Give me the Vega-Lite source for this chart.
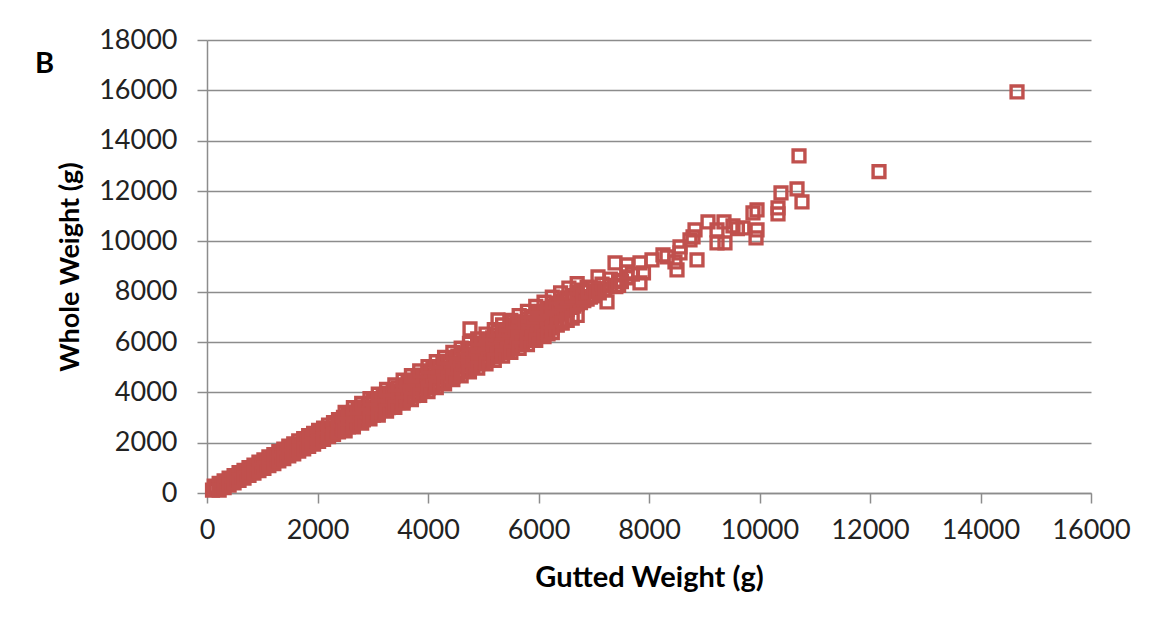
{
  "$schema": "https://vega.github.io/schema/vega-lite/v6.json",
  "width": 884,
  "height": 453,
  "autosize": "none",
  "padding": {"left": 207, "top": 40, "right": 67, "bottom": 130},
  "background": "white",
  "title": {
    "text": "B",
    "anchor": "start",
    "frame": "group",
    "baseline": "top",
    "offset": 0,
    "dx": -172,
    "dy": 53,
    "font": "Lato",
    "fontSize": 29,
    "fontWeight": "bold",
    "color": "#000000"
  },
  "data": {
    "format": {"type": "csv"},
    "values": "g,w\n100,115\n160,175\n220,250\n280,310\n340,388\n400,445\n460,520\n520,578\n580,655\n640,712\n700,790\n760,848\n820,925\n880,980\n940,1060\n1000,1115\n1060,1192\n1120,1250\n1180,1328\n1240,1384\n1300,1462\n1360,1518\n1420,1597\n1480,1652\n1540,1730\n1600,1788\n1660,1866\n1720,1920\n1780,2000\n1840,2055\n1900,2135\n1960,2190\n2020,2270\n2080,2322\n2140,2405\n2200,2458\n2260,2540\n2320,2592\n2380,2672\n2440,2725\n2500,2810\n2560,2860\n2620,2945\n2680,2995\n2740,3078\n2800,3130\n2860,3212\n2920,3262\n2980,3345\n3040,3398\n3100,3480\n3160,3532\n3220,3615\n3280,3665\n3340,3750\n3400,3800\n3460,3885\n3520,3935\n3580,4020\n3640,4070\n3700,4152\n3760,4205\n3820,4288\n3880,4338\n3940,4420\n4000,4472\n4060,4556\n4120,4607\n4180,4690\n4240,4740\n4300,4825\n4360,4876\n4420,4960\n4480,5010\n4540,5094\n4600,5145\n4660,5228\n4720,5280\n4780,5362\n4840,5412\n4900,5497\n4960,5548\n5020,5632\n5080,5682\n5140,5766\n5200,5818\n5260,5900\n5320,5950\n5380,6035\n5440,6085\n5500,6170\n5560,6220\n5620,6302\n5680,6355\n5740,6438\n5800,6490\n5860,6572\n5920,6624\n5980,6706\n6040,6758\n6100,6840\n6160,6892\n6220,6975\n6280,7026\n6340,7110\n6400,7160\n6460,7244\n6520,7296\n6580,7378\n6640,7430\n6700,7512\n6760,7565\n6820,7646\n6880,7700\n6940,7780\n7000,7835\n130,270\n220,380\n310,480\n400,592\n490,690\n580,805\n670,900\n760,1012\n850,1110\n940,1226\n1030,1320\n1120,1436\n1210,1530\n1300,1648\n1390,1740\n1480,1858\n1570,1950\n1660,2068\n1750,2160\n1840,2280\n1930,2372\n2020,2490\n2110,2582\n2200,2700\n2290,2792\n2380,2912\n2470,3004\n2560,3122\n2650,3215\n2740,3332\n2830,3425\n2920,3544\n3010,3636\n3100,3754\n3190,3846\n3280,3964\n3370,4056\n3460,4176\n3550,4268\n3640,4386\n3730,4478\n3820,4596\n3910,4688\n4000,4808\n4090,4898\n4180,5018\n4270,5110\n4360,5230\n4450,5320\n4540,5440\n4630,5530\n4720,5650\n4810,5740\n4900,5860\n4990,5950\n5080,6072\n5170,6160\n5260,6282\n5350,6372\n5440,6492\n5530,6584\n5620,6702\n5710,6795\n5800,6912\n5890,7004\n5980,7124\n6070,7215\n6160,7334\n6250,7426\n6340,7545\n6430,7636\n6520,7755\n6610,7846\n6700,7966\n6790,8058\n6880,8176\n220,118\n310,210\n400,312\n490,400\n580,505\n670,592\n760,698\n850,785\n940,892\n1030,978\n1120,1084\n1210,1170\n1300,1276\n1390,1362\n1480,1470\n1570,1555\n1660,1662\n1750,1748\n1840,1855\n1930,1940\n2020,2048\n2110,2132\n2200,2240\n2290,2325\n2380,2432\n2470,2518\n2560,2626\n2650,2710\n2740,2818\n2830,2902\n2920,3010\n3010,3095\n3100,3204\n3190,3288\n3280,3396\n3370,3480\n3460,3590\n3550,3672\n3640,3782\n3730,3865\n3820,3974\n3910,4058\n4000,4166\n4090,4250\n4180,4360\n4270,4442\n4360,4552\n4450,4636\n4540,4745\n4630,4828\n4720,4938\n4810,5020\n4900,5130\n4990,5212\n5080,5322\n5170,5406\n5260,5515\n5350,5598\n5440,5708\n5530,5790\n5620,5900\n5710,5984\n5800,6092\n5890,6175\n5980,6285\n6070,6368\n6160,6478\n6250,6560\n6340,6670\n6430,6752\n6520,6862\n6610,6946\n6700,7055\n2500,3200\n2650,3390\n2800,3565\n2950,3755\n3100,3925\n3250,4120\n3400,4295\n3550,4485\n3700,4660\n3850,4850\n4000,5025\n4150,5220\n4300,5390\n4450,5585\n4600,5755\n4750,5950\n4900,6125\n5050,6315\n5200,6490\n5350,6680\n5500,6855\n5650,7050\n5800,7220\n5950,7415\n6100,7585\n6250,7780\n6400,7955\n6550,8145\n6700,8320\n2500,2470\n2650,2630\n2800,2778\n2950,2942\n3100,3090\n3250,3255\n3400,3402\n3550,3566\n3700,3714\n3850,3880\n4000,4025\n4150,4190\n4300,4338\n4450,4502\n4600,4650\n4750,4815\n4900,4962\n5050,5126\n5200,5274\n5350,5440\n5500,5585\n5650,5750\n5800,5898\n5950,6062\n6100,6210\n6250,6375\n4760,6517\n5267,6875\n5357,6478\n5538,6796\n6172,6319\n7240,7590\n6800,7800\n6900,8000\n7000,8150\n7050,8000\n7100,7950\n7150,8300\n7200,8100\n7300,8250\n7300,8500\n7400,8200\n7450,8450\n7450,8250\n7500,8400\n7600,8550\n7700,8700\n7900,8750\n7077,8584\n7385,9140\n7602,9061\n7602,8782\n7837,9140\n7837,8345\n8054,9260\n8253,9458\n8326,9379\n8470,9180\n8507,8862\n8561,9776\n8561,9538\n8742,10054\n8797,10174\n8833,10452\n8869,9260\n9068,10770\n9231,10452\n9231,9935\n9357,10770\n9375,9935\n9520,10610\n9600,10500\n9700,10531\n9882,11127\n9955,11247\n9937,10134\n9955,10452\n10335,11326\n10335,11088\n10389,11922\n10679,12081\n10769,11564\n10715,13393\n12163,12770\n14661,15936"
  },
  "mark": {
    "type": "point",
    "shape": "square",
    "filled": false,
    "size": 140,
    "strokeWidth": 3.4,
    "color": "#C0504D",
    "opacity": 1
  },
  "encoding": {
    "x": {
      "field": "g",
      "type": "quantitative",
      "title": "Gutted Weight (g)",
      "scale": {"domain": [0, 16000], "nice": false, "zero": true},
      "axis": {
        "values": [0, 2000, 4000, 6000, 8000, 10000, 12000, 14000, 16000],
        "format": "d",
        "grid": false,
        "labelOverlap": false,
        "labelFlush": false,
        "tickSize": 10,
        "labelPadding": 14,
        "titlePadding": 20,
        "titleFontSize": 29
      }
    },
    "y": {
      "field": "w",
      "type": "quantitative",
      "title": "Whole Weight (g)",
      "scale": {"domain": [0, 18000], "nice": false, "zero": true},
      "axis": {
        "values": [0, 2000, 4000, 6000, 8000, 10000, 12000, 14000, 16000, 18000],
        "format": "d",
        "grid": true,
        "labelOverlap": false,
        "labelFlush": false,
        "tickSize": 10,
        "labelPadding": 20,
        "titlePadding": 14,
        "titleFontSize": 27
      }
    }
  },
  "config": {
    "view": {"stroke": null},
    "axis": {
      "domainColor": "#8c8c8c",
      "domainWidth": 1.5,
      "tickColor": "#8c8c8c",
      "tickWidth": 1.5,
      "gridColor": "#8c8c8c",
      "gridWidth": 1.5,
      "labelFont": "Lato",
      "labelFontSize": 27,
      "labelColor": "#222222",
      "titleFont": "Lato",
      "titleFontWeight": "bold",
      "titleColor": "#000000"
    }
  }
}
